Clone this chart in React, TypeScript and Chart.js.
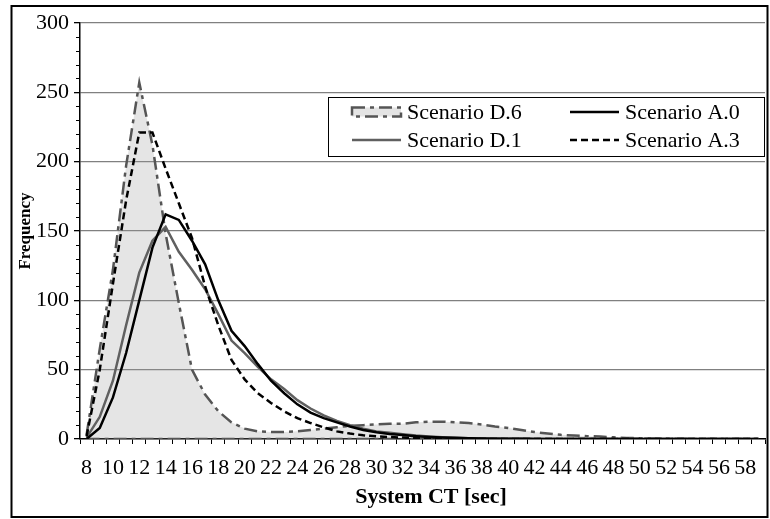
import React, { useEffect, useRef } from 'react';
import { Chart, registerables } from 'chart.js';

Chart.register(...registerables);

// ---- data ----
const CATEGORIES = [
  '8', '9', '10', '11', '12', '13', '14', '15', '16', '17', '18', '19', '20', '21', '22', '23', '24', '25',
  '26', '27', '28', '29', '30', '31', '32', '33', '34', '35', '36', '37', '38', '39', '40', '41', '42', '43',
  '44', '45', '46', '47', '48', '49', '50', '51', '52', '53', '54', '55', '56', '57', '58', '59',
];

const SCENARIO_D6 = [
  3, 65, 122, 197, 257, 212, 148, 98, 50, 32, 20, 12, 7.5, 5.5, 5, 5, 5.5,
  6.5, 7.5, 8.5, 9.5, 10, 10.5, 11, 11, 12, 12.5, 12.5, 12, 11.5, 10.5, 9, 8, 6.5, 5,
  4, 3, 2.5, 2, 1.8, 1.2, 0.8, 0.5, 0.3, 0.2, 0.1, 0, 0, 0, 0, 0, 0,
];

const SCENARIO_D1 = [
  1, 16, 42, 82, 120, 143, 153, 135, 122, 108, 90, 71, 62, 52, 43, 36, 28,
  22, 17, 13, 10, 7.5, 5.5, 4.5, 3.5, 2.5, 1.8, 1.3, 1, 0.6, 0.4, 0.3, 0.2, 0.2, 0.1,
  0, 0, 0, 0, 0, 0, 0, 0, 0, 0, 0, 0, 0, 0, 0, 0, 0,
];

const SCENARIO_A0 = [
  0, 8, 30, 62, 100, 138, 162, 158, 143, 126, 100, 78, 67, 54, 42, 33, 25,
  19, 15, 12, 9, 6.5, 4.8, 3.6, 2.8, 2, 1.4, 1, 0.7, 0.5, 0.3, 0.2, 0.2, 0.1, 0,
  0, 0, 0, 0, 0, 0, 0, 0, 0, 0, 0, 0, 0, 0, 0, 0, 0,
];

const SCENARIO_A3 = [
  2, 50, 112, 172, 221, 221, 195, 170, 145, 110, 82, 57, 43, 33, 26, 20, 15,
  11.5, 8.4, 5.5, 3.9, 2.7, 1.9, 1.4, 1, 0.7, 0.5, 0.3, 0.2, 0.1, 0, 0, 0, 0, 0,
  0, 0, 0, 0, 0, 0, 0, 0, 0, 0, 0, 0, 0, 0, 0, 0, 0,
];

const Y_MIN = 0;
const Y_MAX = 300;
const Y_MAJOR_STEP = 50;
const Y_MINOR_STEP = 10;
const X_LABEL_EVERY = 2;

const X_TITLE = 'System CT [sec]';
const Y_TITLE = 'Frequency';

const FONT = "'Liberation Serif', 'Times New Roman', serif";

const D6_DASH = [13, 5, 4, 5];
const A3_DASH = [7, 4];

// ---- plugins ----
const framePlugin = {
  id: 'outerFrame',
  afterDraw(chart: any, _a: any, opts: any) {
    const ctx = chart.ctx;
    ctx.save();
    ctx.strokeStyle = '#000';
    ctx.lineWidth = opts.lineWidth;
    ctx.strokeRect(opts.x, opts.y, opts.w, opts.h);
    ctx.restore();
  },
};

const xTitlePlugin = {
  id: 'xTitle',
  afterDraw(chart: any, _a: any, opts: any) {
    const ctx = chart.ctx;
    ctx.save();
    ctx.font = opts.font;
    ctx.fillStyle = '#000';
    ctx.textAlign = 'center';
    ctx.textBaseline = 'middle';
    ctx.fillText(opts.text, opts.x, opts.y);
    ctx.restore();
  },
};

const minorTickPlugin = {
  id: 'minorTicks',
  afterDraw(chart: any, _a: any, opts: any) {
    const s = chart.scales.y;
    const ctx = chart.ctx;
    ctx.save();
    ctx.strokeStyle = '#000';
    ctx.lineWidth = 1;
    for (let v = Y_MIN; v <= Y_MAX; v += Y_MINOR_STEP) {
      if (v % Y_MAJOR_STEP === 0) continue;
      const y = Math.round(s.getPixelForValue(v)) + 0.5;
      ctx.beginPath();
      ctx.moveTo(s.right - opts.length, y);
      ctx.lineTo(s.right, y);
      ctx.stroke();
    }
    ctx.restore();
  },
};

const boxLegendPlugin = {
  id: 'boxLegend',
  afterDraw(chart: any, _a: any, opts: any) {
    const ctx = chart.ctx;
    const { x, y, w, h } = opts.box;
    ctx.save();
    ctx.fillStyle = '#fff';
    ctx.fillRect(x, y, w, h);
    ctx.strokeStyle = '#000';
    ctx.lineWidth = 1;
    ctx.strokeRect(x + 0.5, y + 0.5, w, h);
    ctx.font = opts.font;
    ctx.textBaseline = 'middle';
    ctx.textAlign = 'left';
    opts.items.forEach((it: any) => {
      const ds = chart.data.datasets[it.datasetIndex];
      const sx = opts.colX[it.col];
      const sy = opts.rowY[it.row];
      ctx.save();
      ctx.strokeStyle = ds.borderColor;
      ctx.lineWidth = ds.borderWidth;
      ctx.setLineDash(ds.borderDash || []);
      if (it.area) {
        ctx.fillStyle = opts.areaFill;
        ctx.fillRect(sx, sy - 4.5, opts.sampleW, 9);
        ctx.strokeRect(sx, sy - 4.5, opts.sampleW, 9);
      } else {
        ctx.beginPath();
        ctx.moveTo(sx, sy);
        ctx.lineTo(sx + opts.sampleW, sy);
        ctx.stroke();
      }
      ctx.restore();
      ctx.fillStyle = '#000';
      ctx.fillText(ds.label, sx + opts.sampleW + opts.gap, sy + 1);
    });
    ctx.restore();
  },
};

export default function App() {
  const ref = useRef<HTMLCanvasElement | null>(null);

  useEffect(() => {
    if (!ref.current) return;
    const baseline = SCENARIO_D6.map((v) => (v === null ? null : 0));
    const chart = new Chart(ref.current, {
      type: 'line',
      data: {
        labels: CATEGORIES,
        datasets: [
          {
            label: 'Scenario D.6',
            data: SCENARIO_D6,
            borderColor: '#555555',
            backgroundColor: 'rgba(150,150,150,0.25)',
            fill: 'origin',
            borderDash: D6_DASH,
            borderWidth: 2.5,
            pointRadius: 0,
            tension: 0,
            order: 5,
          },
          {
            label: 'Scenario D.6 base',
            data: baseline,
            borderColor: '#555555',
            borderDash: D6_DASH,
            borderWidth: 2.5,
            pointRadius: 0,
            fill: false,
            order: 4,
          },
          {
            label: 'Scenario D.1',
            data: SCENARIO_D1,
            borderColor: '#606060',
            borderWidth: 2.5,
            pointRadius: 0,
            fill: false,
            order: 3,
          },
          {
            label: 'Scenario A.3',
            data: SCENARIO_A3,
            borderColor: '#000000',
            borderDash: A3_DASH,
            borderWidth: 2.5,
            pointRadius: 0,
            fill: false,
            order: 2,
          },
          {
            label: 'Scenario A.0',
            data: SCENARIO_A0,
            borderColor: '#000000',
            borderWidth: 2.5,
            pointRadius: 0,
            fill: false,
            order: 1,
          },
        ],
      },
      options: {
        animation: false,
        responsive: false,
        devicePixelRatio: 1,
        layout: { padding: { top: 23, right: 5, left: 0, bottom: 0 } },
        plugins: {
          legend: { display: false },
          tooltip: { enabled: false },
          outerFrame: { x: 11.5, y: 6, w: 756, h: 511, lineWidth: 2 },
          minorTicks: { length: 4 },
          xTitle: { text: X_TITLE, x: 431, y: 497, font: `bold 22px ${FONT}` },
          boxLegend: {
            box: { x: 328, y: 97, w: 436, h: 59 },
            colX: [352, 570],
            rowY: [112, 140],
            sampleW: 49,
            gap: 6,
            font: `22px ${FONT}`,
            areaFill: '#e4e4e4',
            items: [
              { datasetIndex: 0, col: 0, row: 0, area: true },
              { datasetIndex: 4, col: 1, row: 0 },
              { datasetIndex: 2, col: 0, row: 1 },
              { datasetIndex: 3, col: 1, row: 1 },
            ],
          },
        } as any,
        scales: {
          x: {
            type: 'category',
            offset: true,
            afterFit: (s: any) => {
              s.height = 80;
            },
            grid: {
              offset: true,
              drawOnChartArea: false,
              drawTicks: true,
              tickLength: 5,
              tickColor: '#000',
              lineWidth: 1,
            },
            border: { display: true, color: '#000', width: 1.5 },
            ticks: {
              autoSkip: false,
              maxRotation: 0,
              minRotation: 0,
              padding: 11,
              color: '#000',
              font: { family: FONT, size: 22 },
              callback: (_v: any, i: number) =>
                (Number(CATEGORIES[i]) - Number(CATEGORIES[0])) % X_LABEL_EVERY === 0 ? CATEGORIES[i] : '',
            },
            title: { display: false },
          },
          y: {
            min: Y_MIN,
            max: Y_MAX,
            afterFit: (s: any) => {
              s.width = 80;
            },
            grid: {
              color: (c: any) => (c.tick && c.tick.value === 0 ? 'rgba(0,0,0,0)' : '#808080'),
              tickColor: '#000',
              tickLength: 6,
              lineWidth: 1.3,
            },
            border: { display: true, color: '#000', width: 1.5 },
            ticks: {
              stepSize: Y_MAJOR_STEP,
              padding: 5,
              color: '#000',
              font: { family: FONT, size: 22 },
            },
            title: {
              display: true,
              text: Y_TITLE,
              color: '#000',
              font: { family: FONT, size: 17, weight: 'bold' },
              padding: { top: 15, bottom: 0 },
            },
          },
        },
      },
      plugins: [framePlugin, minorTickPlugin, boxLegendPlugin, xTitlePlugin],
    } as any);
    return () => chart.destroy();
  }, []);

  return (
    <canvas
      ref={ref}
      width={770}
      height={519}
      style={{ position: 'fixed', left: 0, top: 0, width: 770, height: 519, background: '#fff' }}
    />
  );
}
